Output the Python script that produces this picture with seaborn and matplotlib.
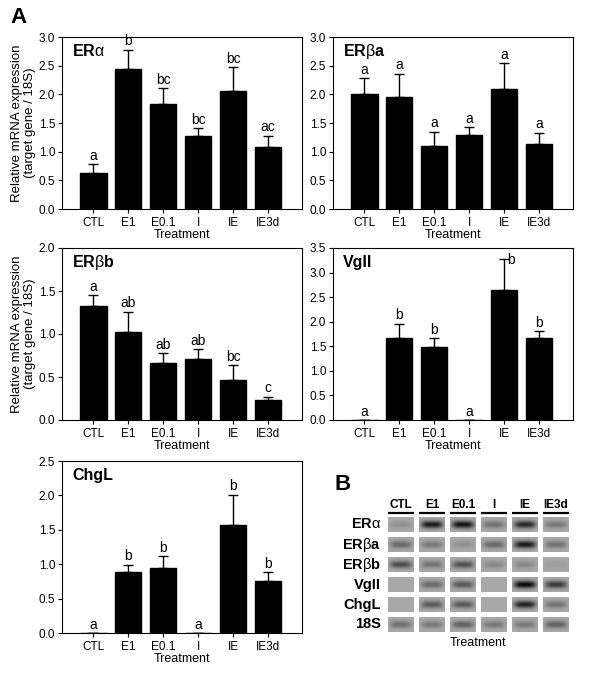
import numpy as np
import pandas as pd
import seaborn as sns
import matplotlib.pyplot as plt

# ===============================
# Data
# ===============================
treatments = ['CTL', 'E1', 'E0.1', 'I', 'IE', 'IE3d']

era_mean = [0.62, 2.44, 1.83, 1.27, 2.05, 1.09]
era_err = [0.16, 0.34, 0.28, 0.14, 0.42, 0.19]
era_letters = ['a', 'b', 'bc', 'bc', 'bc', 'ac']

erba_mean = [2.00, 1.96, 1.10, 1.29, 2.10, 1.13]
erba_err = [0.28, 0.40, 0.25, 0.14, 0.44, 0.20]
erba_letters = ['a', 'a', 'a', 'a', 'a', 'a']

erbb_mean = [1.33, 1.02, 0.66, 0.71, 0.47, 0.23]
erbb_err = [0.12, 0.24, 0.12, 0.11, 0.17, 0.04]
erbb_letters = ['a', 'ab', 'ab', 'ab', 'bc', 'c']

vg_mean = [0.0, 1.67, 1.49, 0.0, 2.65, 1.67]
vg_err = [0.0, 0.29, 0.18, 0.0, 0.63, 0.14]
vg_letters = ['a', 'b', 'b', 'a', 'b', 'b']

chg_mean = [0.0, 0.88, 0.95, 0.0, 1.57, 0.75]
chg_err = [0.0, 0.11, 0.17, 0.0, 0.44, 0.13]
chg_letters = ['a', 'b', 'b', 'a', 'b', 'b']

# gel band intensities (0 = no band, 1 = saturated), one list per gene
gel_genes = [r'$\mathbf{ER}\mathrm{\alpha}$', r'$\mathbf{ER}\mathrm{\beta}\mathbf{a}$',
             r'$\mathbf{ER}\mathrm{\beta}\mathbf{b}$', 'VgII', 'ChgL', '18S']
band_era = [0.15, 0.90, 0.95, 0.35, 0.80, 0.30]
band_erba = [0.40, 0.30, 0.15, 0.40, 0.90, 0.35]
band_erbb = [0.60, 0.35, 0.55, 0.20, 0.20, 0.08]
band_vg = [0.0, 0.40, 0.50, 0.0, 1.00, 0.70]
band_chg = [0.0, 0.50, 0.50, 0.0, 0.85, 0.35]
band_18s = [0.35, 0.30, 0.45, 0.30, 0.30, 0.45]

# ===============================
# Style
# ===============================
sns.set_style('ticks')
plt.rcParams['font.family'] = ['Liberation Sans', 'DejaVu Sans']
plt.rcParams['axes.linewidth'] = 0.8
for key in ['text.color', 'axes.labelcolor', 'xtick.color', 'ytick.color', 'axes.edgecolor']:
    plt.rcParams[key] = 'black'
plt.rcParams['mathtext.fontset'] = 'custom'
plt.rcParams['mathtext.rm'] = 'Liberation Sans'
plt.rcParams['mathtext.bf'] = 'Liberation Sans:bold'
plt.rcParams['mathtext.it'] = 'Liberation Sans:italic'

W, H = 600, 675
fig = plt.figure(figsize=(W / 100, H / 100), dpi=100)


def px_axes(left, top, right, bottom):
    return fig.add_axes([left / W, 1 - bottom / H, (right - left) / W, (bottom - top) / H])


def bar_panel(ax, means, errs, letters, ymax, title, ylabel=True, special=None):
    df = pd.DataFrame({'Treatment': treatments, 'value': means})
    sns.barplot(data=df, x='Treatment', y='value', color='black', saturation=1,
                width=0.75, errorbar=None, edgecolor='black', ax=ax)
    x = np.arange(len(treatments))
    ax.errorbar(x, means, yerr=[np.zeros(len(errs)), errs], fmt='none',
                ecolor='black', elinewidth=1, capsize=3.5, capthick=1)
    for i, (m, e, lab) in enumerate(zip(means, errs, letters)):
        off, ha = (0, 1), 'center'
        if special and i in special:
            off, ha = special[i]
        ax.annotate(lab, (i, m + e), xytext=off, textcoords='offset points',
                    ha=ha, va='bottom', fontsize=10)
    ax.set_xlim(-0.9, 5.97)
    ax.set_ylim(0, ymax)
    ticks = np.arange(0, ymax + 0.01, 0.5)
    ax.set_yticks(ticks)
    ax.set_yticklabels([f'{v:.1f}' for v in ticks])
    ax.tick_params(axis='both', direction='out', length=3, width=0.8, labelsize=8.5, pad=2)
    ax.tick_params(axis='x', pad=3)
    ax.set_xlabel('Treatment', fontsize=9, labelpad=0)
    if ylabel:
        ax.set_ylabel('Relative mRNA expression\n(target gene / 18S)', fontsize=9.5,
                      labelpad=2, linespacing=1.1)
    else:
        ax.set_ylabel('')
    for sp in ax.spines.values():
        sp.set_visible(True)
        sp.set_linewidth(0.8)
    ax.text(10 / 240, 1 - 19 / 172, title, transform=ax.transAxes, fontsize=11.5,
            fontweight='bold', ha='left', va='baseline')


ax1 = px_axes(62, 37, 302, 209)
bar_panel(ax1, era_mean, era_err, era_letters, 3.0, gel_genes[0])

ax2 = px_axes(333, 37, 573, 209)
bar_panel(ax2, erba_mean, erba_err, erba_letters, 3.0, gel_genes[1], ylabel=False)

ax3 = px_axes(62, 248, 302, 420)
bar_panel(ax3, erbb_mean, erbb_err, erbb_letters, 2.0, gel_genes[2])

ax4 = px_axes(333, 248, 573, 420)
bar_panel(ax4, vg_mean, vg_err, vg_letters, 3.5, gel_genes[3], ylabel=False,
          special={4: ((2.5, -6), 'left')})

ax5 = px_axes(62, 461, 302, 633)
bar_panel(ax5, chg_mean, chg_err, chg_letters, 2.5, gel_genes[4], ylabel=False)

fig.text(10 / W, 1 - 23 / H, 'A', fontsize=16, fontweight='bold', va='baseline')
fig.text(335 / W, 1 - 490 / H, 'B', fontsize=16, fontweight='bold', va='baseline')

# ===============================
# Gel panel (B)
# ===============================
bands = np.array([band_era, band_erba, band_erbb, band_vg, band_chg, band_18s])
cw, ch, gx, gy = 26, 15, 5, 5
nr, nc = bands.shape
img = np.ones((nr * ch + (nr - 1) * gy, nc * cw + (nc - 1) * gx))
yy = np.arange(ch)[:, None]
xx = np.arange(cw)[None, :]
prof_y = np.exp(-0.5 * ((yy - (ch - 1) / 2) / 2.6) ** 2)
prof_x = np.exp(-0.5 * (np.abs(xx - (cw - 1) / 2) / 9.0) ** 4)
bg = 0.66
for r in range(nr):
    for c in range(nc):
        cell = bg - bands[r, c] * (bg - 0.04) * prof_y * prof_x
        y0, x0 = r * (ch + gy), c * (cw + gx)
        img[y0:y0 + ch, x0:x0 + cw] = cell

gax = px_axes(388, 517, 569, 632)
sns.heatmap(img, cmap='gray', vmin=0, vmax=1, cbar=False, xticklabels=False,
            yticklabels=False, ax=gax)
for c, name in enumerate(treatments):
    x0 = c * (cw + gx)
    gax.text(x0 + cw / 2, -9, name, ha='center', va='baseline', fontsize=8.5,
             fontweight='bold', clip_on=False)
    gax.plot([x0, x0 + cw], [-4.5, -4.5], color='black', lw=1.6, clip_on=False,
             solid_capstyle='butt')
for r, name in enumerate(gel_genes):
    gax.text(-7, r * (ch + gy) + ch / 2 + 4, name, ha='right', va='baseline',
             fontsize=10.5, fontweight='bold', clip_on=False)
gax.text(img.shape[1] / 2, img.shape[0] + 14, 'Treatment', ha='center', va='baseline',
         fontsize=9, clip_on=False)

fig.savefig('out.png', dpi=100)
